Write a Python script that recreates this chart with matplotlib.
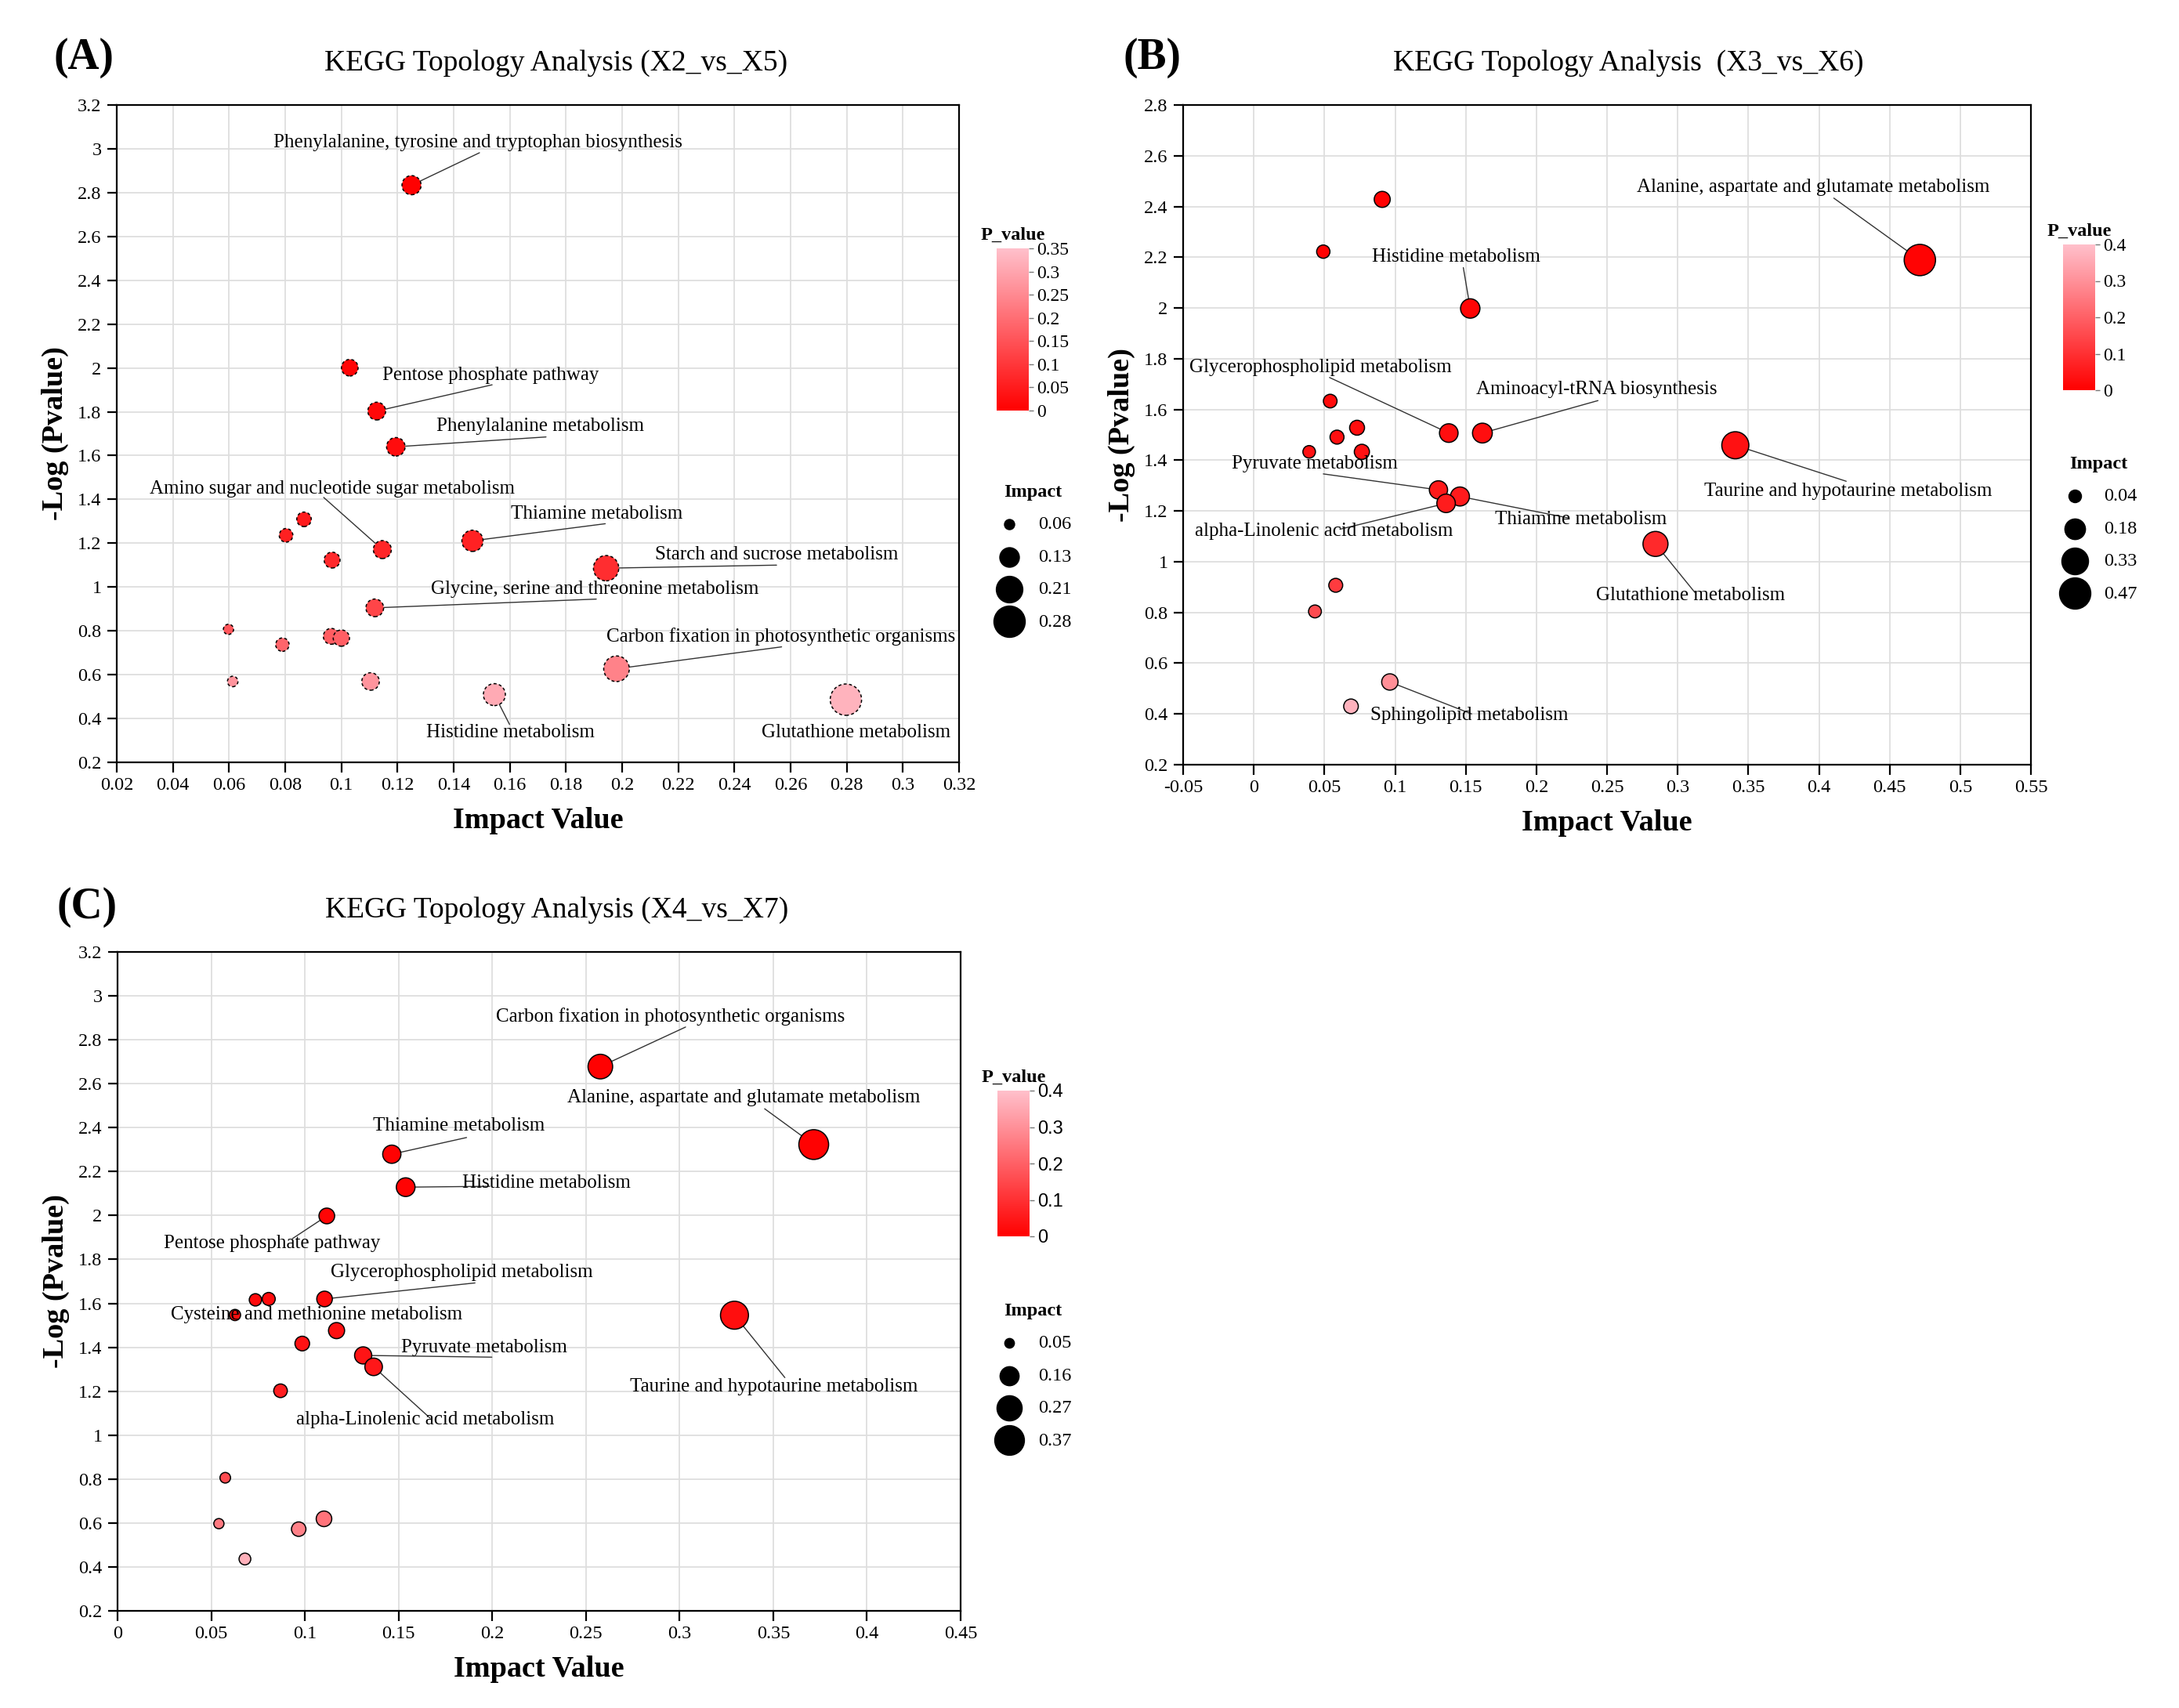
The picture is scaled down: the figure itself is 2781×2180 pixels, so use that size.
import numpy as np
import matplotlib
matplotlib.use("Agg")
import matplotlib.pyplot as plt
from matplotlib.colors import LinearSegmentedColormap, Normalize
from matplotlib.ticker import FuncFormatter

plt.rcParams['font.family'] = ['Liberation Serif', 'DejaVu Serif']

# ---------------- Panel A data ----------------
A_title = "KEGG Topology Analysis (X2_vs_X5)"
A_names = ["Phenylalanine, tyrosine and tryptophan biosynthesis", "", "Pentose phosphate pathway",
           "Phenylalanine metabolism", "", "", "Amino sugar and nucleotide sugar metabolism",
           "Thiamine metabolism", "", "Starch and sucrose metabolism",
           "Glycine, serine and threonine metabolism", "", "", "", "", "", "",
           "Histidine metabolism", "Carbon fixation in photosynthetic organisms", "Glutathione metabolism"]
A_impact = [0.125, 0.103, 0.1126, 0.1194, 0.0867, 0.0803, 0.1146, 0.1467, 0.0967, 0.1943,
            0.1119, 0.0598, 0.0790, 0.0964, 0.1000, 0.0613, 0.1104, 0.1545, 0.1980, 0.2797]
A_neglogp = [2.834, 2.001, 1.803, 1.640, 1.309, 1.236, 1.171, 1.211, 1.123, 1.086,
             0.905, 0.807, 0.737, 0.775, 0.767, 0.569, 0.569, 0.509, 0.627, 0.486]
A_xticks = [0.02, 0.04, 0.06, 0.08, 0.1, 0.12, 0.14, 0.16, 0.18, 0.2, 0.22, 0.24, 0.26, 0.28, 0.3, 0.32]
A_yticks = [0.2, 0.4, 0.6, 0.8, 1, 1.2, 1.4, 1.6, 1.8, 2, 2.2, 2.4, 2.6, 2.8, 3, 3.2]
A_cbar_ticks = [0, 0.05, 0.1, 0.15, 0.2, 0.25, 0.3, 0.35]
A_size_legend = [0.06, 0.13, 0.21, 0.28]

# ---------------- Panel B data ----------------
B_title = "KEGG Topology Analysis  (X3_vs_X6)"
B_names = ["", "", "Histidine metabolism", "Alanine, aspartate and glutamate metabolism", "", "", "", "", "",
           "Glycerophospholipid metabolism", "Aminoacyl-tRNA biosynthesis", "Taurine and hypotaurine metabolism",
           "Pyruvate metabolism", "Thiamine metabolism", "alpha-Linolenic acid metabolism",
           "Glutathione metabolism", "", "", "Sphingolipid metabolism", ""]
B_impact = [0.0909, 0.0492, 0.1532, 0.4714, 0.0541, 0.0731, 0.0589, 0.0392, 0.0765, 0.1380,
            0.1618, 0.3408, 0.1307, 0.1459, 0.1361, 0.2843, 0.0580, 0.0433, 0.0963, 0.0688]
B_neglogp = [2.428, 2.222, 1.998, 2.189, 1.633, 1.528, 1.491, 1.433, 1.433, 1.507,
             1.507, 1.459, 1.283, 1.257, 1.230, 1.070, 0.907, 0.804, 0.526, 0.430]
B_xticks = [-0.05, 0, 0.05, 0.1, 0.15, 0.2, 0.25, 0.3, 0.35, 0.4, 0.45, 0.5, 0.55]
B_yticks = [0.2, 0.4, 0.6, 0.8, 1, 1.2, 1.4, 1.6, 1.8, 2, 2.2, 2.4, 2.6, 2.8]
B_cbar_ticks = [0, 0.1, 0.2, 0.3, 0.4]
B_size_legend = [0.04, 0.18, 0.33, 0.47]

# ---------------- Panel C data ----------------
C_title = "KEGG Topology Analysis (X4_vs_X7)"
C_names = ["Carbon fixation in photosynthetic organisms", "Alanine, aspartate and glutamate metabolism",
           "Thiamine metabolism", "Histidine metabolism", "Pentose phosphate pathway", "", "",
           "Glycerophospholipid metabolism", "Cysteine and methionine metabolism",
           "Taurine and hypotaurine metabolism", "", "", "Pyruvate metabolism",
           "alpha-Linolenic acid metabolism", "", "", "", "", "", ""]
C_impact = [0.2577, 0.3716, 0.1464, 0.1538, 0.1117, 0.0736, 0.0807, 0.1105, 0.0627, 0.3293,
            0.1169, 0.0986, 0.1311, 0.1367, 0.0870, 0.0575, 0.0541, 0.0967, 0.1102, 0.0680]
C_neglogp = [2.678, 2.323, 2.279, 2.129, 1.998, 1.616, 1.620, 1.620, 1.547, 1.546,
             1.476, 1.417, 1.363, 1.311, 1.202, 0.806, 0.597, 0.572, 0.619, 0.436]
C_xticks = [0, 0.05, 0.1, 0.15, 0.2, 0.25, 0.3, 0.35, 0.4, 0.45]
C_yticks = [0.2, 0.4, 0.6, 0.8, 1, 1.2, 1.4, 1.6, 1.8, 2, 2.2, 2.4, 2.6, 2.8, 3, 3.2]
C_cbar_ticks = [0, 0.1, 0.2, 0.3, 0.4]
C_size_legend = [0.05, 0.16, 0.27, 0.37]

# ---------------- label placement (text centre, leader-line start) ----------------
A_label_pos = {
    "Phenylalanine, tyrosine and tryptophan biosynthesis": ((0.1487, 3.03), (0.1492, 2.982)),
    "Pentose phosphate pathway": ((0.1532, 1.968), (0.1537, 1.923)),
    "Phenylalanine metabolism": ((0.1709, 1.733), (0.1729, 1.685)),
    "Amino sugar and nucleotide sugar metabolism": ((0.0967, 1.449), (0.0937, 1.409)),
    "Thiamine metabolism": ((0.1911, 1.334), (0.194, 1.289)),
    "Starch and sucrose metabolism": ((0.255, 1.148), (0.255, 1.10)),
    "Glycine, serine and threonine metabolism": ((0.1903, 0.990), (0.1908, 0.945)),
    "Carbon fixation in photosynthetic organisms": ((0.2565, 0.775), (0.2568, 0.727)),
    "Histidine metabolism": ((0.1602, 0.336), (0.1599, 0.373)),
    "Glutathione metabolism": ((0.2832, 0.336), None),
}
B_label_pos = {
    "Alanine, aspartate and glutamate metabolism": ((0.3958, 2.476), (0.4105, 2.433)),
    "Histidine metabolism": ((0.1434, 2.202), (0.1483, 2.159)),
    "Glycerophospholipid metabolism": ((0.0472, 1.765), (0.0536, 1.726)),
    "Aminoacyl-tRNA biosynthesis": ((0.2426, 1.678), (0.2436, 1.635)),
    "Taurine and hypotaurine metabolism": ((0.4208, 1.278), (0.4193, 1.317)),
    "Pyruvate metabolism": ((0.0433, 1.385), (0.0492, 1.346)),
    "Thiamine metabolism": ((0.2313, 1.167), (0.223, 1.172)),
    "alpha-Linolenic acid metabolism": ((0.0497, 1.12), (0.061, 1.128)),
    "Glutathione metabolism": ((0.3089, 0.867), (0.3123, 0.878)),
    "Sphingolipid metabolism": ((0.1523, 0.396), (0.1542, 0.40)),
}
C_label_pos = {
    "Carbon fixation in photosynthetic organisms": ((0.295, 2.907), (0.3032, 2.858)),
    "Alanine, aspartate and glutamate metabolism": ((0.3342, 2.535), (0.3454, 2.486)),
    "Thiamine metabolism": ((0.1822, 2.407), (0.1863, 2.355)),
    "Histidine metabolism": ((0.2289, 2.146), (0.1987, 2.133)),
    "Pentose phosphate pathway": ((0.0825, 1.872), (0.0934, 1.895)),
    "Glycerophospholipid metabolism": ((0.1837, 1.742), (0.1908, 1.693)),
    "Cysteine and methionine metabolism": ((0.1064, 1.547), None),
    "Pyruvate metabolism": ((0.1957, 1.397), (0.1998, 1.355)),
    "Taurine and hypotaurine metabolism": ((0.3503, 1.22), (0.3562, 1.262)),
    "alpha-Linolenic acid metabolism": ((0.1643, 1.072), (0.1669, 1.077)),
}

W, H = 2781, 2180
DPI = 100
fig = plt.figure(figsize=(W / DPI, H / DPI), dpi=DPI)
cmap = LinearSegmentedColormap.from_list("redpink", ["#FF0000", "#FFC0CB"])


def fx(px):
    return px / W


def fy(py):
    return 1 - py / H


def size_map(v, vmin, vmax, dmin, dmax):
    v = np.asarray(v, dtype=float)
    d2 = dmin ** 2 + (v - vmin) / (vmax - vmin) * (dmax ** 2 - dmin ** 2)
    return d2 * (72.0 / DPI) ** 2


fmt = FuncFormatter(lambda v, p: f"{round(v, 4):g}")


def panel(rect, title, title_xy, letter, letter_xy, names, impact, neglogp, xticks, yticks,
          label_pos, cbar_rect, cbar_max, cbar_ticks, size_legend, leg_xy, dmin, dmax,
          dashed, cbar_font):
    ax = fig.add_axes(rect)
    ax.set_xlim(xticks[0], xticks[-1])
    ax.set_ylim(yticks[0], yticks[-1])
    ax.set_xticks(xticks)
    ax.set_yticks(yticks)
    ax.xaxis.set_major_formatter(fmt)
    ax.yaxis.set_major_formatter(fmt)
    ax.grid(True, color='#dedede', lw=1.3)
    ax.set_axisbelow(True)
    for s in ax.spines.values():
        s.set_linewidth(1.6)
    ax.tick_params(length=9, width=1.6, labelsize=17.5, pad=5)
    ax.set_xlabel("Impact Value", fontsize=27.5, fontweight='bold', labelpad=12)
    ax.set_ylabel("-Log (Pvalue)", fontsize=27.5, fontweight='bold', labelpad=8)

    impact = np.asarray(impact)
    neglogp = np.asarray(neglogp)
    pvals = 10 ** (-neglogp)
    norm = Normalize(0, cbar_max)
    vmin, vmax = impact.min(), impact.max()
    sizes = size_map(impact, vmin, vmax, dmin, dmax)
    ax.scatter(impact, neglogp, s=sizes, c=pvals, cmap=cmap, norm=norm,
               edgecolors='black', linewidths=1.1,
               linestyles=(0, (2.5, 2)) if dashed else 'solid', zorder=4)

    for name, x, y in zip(names, impact, neglogp):
        if not name:
            continue
        (tx, ty), anchor = label_pos[name]
        ax.text(tx, ty, name, fontsize=18, ha='center', va='center', zorder=6)
        if anchor is not None:
            ax.annotate("", xy=(x, y), xytext=anchor,
                        arrowprops=dict(arrowstyle='-', color='#333333', lw=1.0,
                                        shrinkA=0, shrinkB=0), zorder=3)

    # colour bar
    cax = fig.add_axes(cbar_rect)
    sm = plt.cm.ScalarMappable(norm=norm, cmap=cmap)
    cb = fig.colorbar(sm, cax=cax, ticks=cbar_ticks)
    cb.outline.set_visible(False)
    cax.tick_params(length=4, width=1, color='#777777', labelsize=17, pad=3)
    cax.yaxis.set_major_formatter(fmt)
    for t in cax.get_yticklabels():
        t.set_family(cbar_font)
    cax.set_title("P_value", fontsize=17.5, fontweight='bold', pad=8)

    # size legend
    handles = [ax.scatter([], [], s=size_map(v, vmin, vmax, dmin, dmax), c='black')
               for v in size_legend]
    leg = ax.legend(handles, [f"{v:.2f}" for v in size_legend], title="Impact",
                    loc='upper left', bbox_to_anchor=leg_xy, bbox_transform=fig.transFigure,
                    frameon=False, fontsize=17.5, title_fontsize=17.5, borderpad=0,
                    borderaxespad=0, handlelength=1.5, handletextpad=0.75,
                    labelspacing=0.8, scatterpoints=1)
    leg.get_title().set_fontweight('bold')

    fig.text(title_xy[0], title_xy[1], title, fontsize=27, ha='center', va='center')
    fig.text(letter_xy[0], letter_xy[1], letter, fontsize=40, fontweight='bold',
             ha='center', va='center')
    return ax


panel([fx(149), fy(973), fx(1224) - fx(149), fy(134) - fy(973)], A_title, (fx(710), fy(81)),
      "(A)", (fx(107), fy(74)), A_names, A_impact, A_neglogp, A_xticks, A_yticks, A_label_pos,
      [fx(1272), fy(524), fx(41), (524 - 317) / H], 0.35, A_cbar_ticks, A_size_legend,
      (fx(1270), fy(618)), 13, 40, True, 'Liberation Serif')

panel([fx(1510), fy(976), fx(2592) - fx(1510), fy(134) - fy(976)], B_title, (fx(2078), fy(81)),
      "(B)", (fx(1471), fy(74)), B_names, B_impact, B_neglogp, B_xticks, B_yticks, B_label_pos,
      [fx(2633), fy(498), fx(41), (498 - 312) / H], 0.4, B_cbar_ticks, B_size_legend,
      (fx(2630), fy(582)), 16, 40, False, 'Liberation Serif')

panel([fx(150), fy(2056), fx(1226) - fx(150), fy(1215) - fy(2056)], C_title, (fx(711), fy(1162)),
      "(C)", (fx(111), fy(1158)), C_names, C_impact, C_neglogp, C_xticks, C_yticks, C_label_pos,
      [fx(1273), fy(1578), fx(41), (1578 - 1392) / H], 0.4, C_cbar_ticks, C_size_legend,
      (fx(1270), fy(1663)), 13, 38, False, 'Liberation Sans')

fig.savefig("out.png", dpi=DPI)
